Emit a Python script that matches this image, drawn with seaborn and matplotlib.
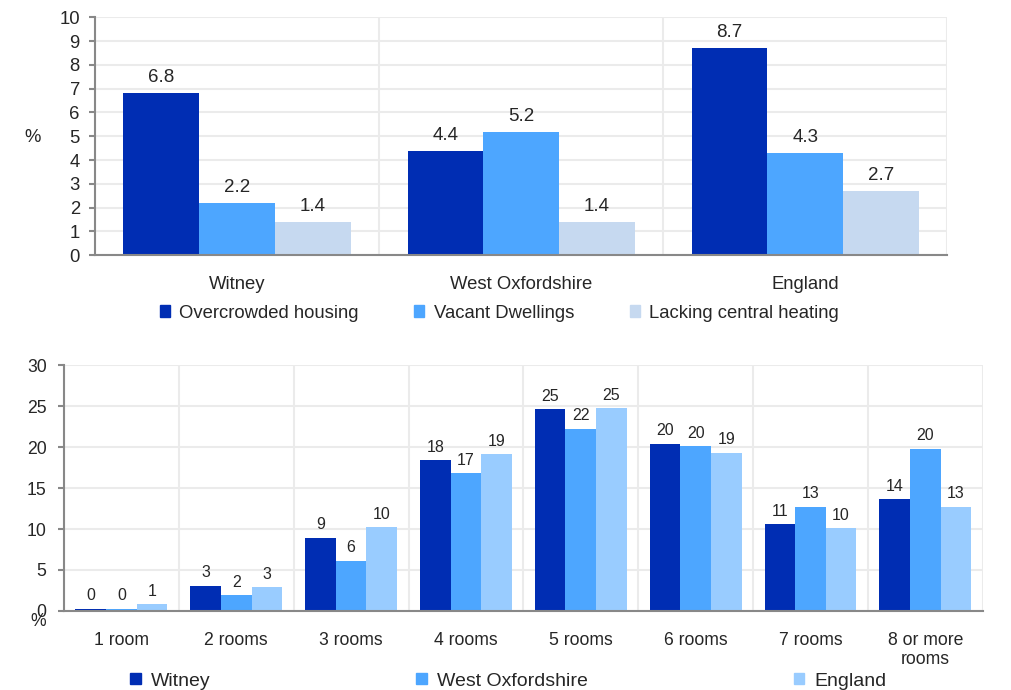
import numpy as np
import pandas as pd
import seaborn as sns
from matplotlib import pyplot as plt
from matplotlib.patches import Patch

# top chart: housing indicators (%)
areas = ["Witney", "West Oxfordshire", "England"]
measures = ["Overcrowded housing", "Vacant Dwellings", "Lacking central heating"]
overcrowded = [6.8, 4.4, 8.7]
vacant = [2.2, 5.2, 4.3]
no_heating = [1.4, 1.4, 2.7]
top_colors = ["#002DB3", "#4DA6FF", "#C6D9F0"]

# bottom chart: number of rooms (%)
rooms = ["1 room", "2 rooms", "3 rooms", "4 rooms", "5 rooms", "6 rooms", "7 rooms", "8 or more\nrooms"]
places = ["Witney", "West Oxfordshire", "England"]
witney = [0.3, 3.1, 8.9, 18.4, 24.6, 20.4, 10.6, 13.6]
west_oxon = [0.3, 1.9, 6.1, 16.8, 22.2, 20.1, 12.7, 19.8]
england = [0.8, 2.9, 10.2, 19.1, 24.7, 19.3, 10.1, 12.7]
bottom_colors = ["#002DB3", "#4DA6FF", "#99CCFF"]

top_df = pd.DataFrame({
    "area": areas * 3,
    "measure": np.repeat(measures, len(areas)),
    "value": overcrowded + vacant + no_heating,
})
bottom_df = pd.DataFrame({
    "rooms": rooms * 3,
    "place": np.repeat(places, len(rooms)),
    "value": witney + west_oxon + england,
})

sns.set_style("white")
plt.rcParams["font.family"] = ["Liberation Sans", "DejaVu Sans"]

GRAY = "#888888"
GRID = "#EBEBEB"


def style_axis(ax, labels, ymax, step, fs, ypad):
    n = len(labels)
    ax.set_ylim(0, ymax)
    ax.set_yticks(np.arange(0, ymax + 0.1, step))
    ax.set_xlim(-0.5, n - 0.5)
    ax.set_xticks(np.arange(n + 1) - 0.5, [""] * (n + 1))
    ax.set_xticks(np.arange(n), labels, minor=True)
    ax.tick_params(axis="x", which="minor", length=0, pad=15, labelsize=fs)
    ax.tick_params(axis="x", which="major", length=4.5, width=1.5, color=GRAY)
    ax.tick_params(axis="y", length=4.5, width=1.5, color=GRAY, pad=ypad, labelsize=fs, left=True)
    ax.grid(True, which="major", color=GRID, linewidth=1.5)
    ax.set_axisbelow(True)
    for s in ["top", "right"]:
        ax.spines[s].set_visible(False)
    for s in ["left", "bottom"]:
        ax.spines[s].set_color(GRAY)
        ax.spines[s].set_linewidth(1.5)
    ax.set_xlabel("")
    ax.set_ylabel("")


fig = plt.figure(figsize=(10.11, 6.90), dpi=100)

# --- top chart
ax1 = fig.add_axes([0.094, 0.630, 0.843, 0.345])
sns.barplot(data=top_df, x="area", y="value", hue="measure", palette=top_colors,
            width=0.8, saturation=1, errorbar=None, legend=False, linewidth=0, ax=ax1)
for c in ax1.containers:
    ax1.bar_label(c, fmt="%.1f", padding=5, fontsize=13.5)
style_axis(ax1, areas, 10, 1, 13.3, 6.5)
fig.text(0.032, 1 - 137 / 690, "%", fontsize=13.3, ha="center", va="center")

handles = [Patch(color=c, label=m) for c, m in zip(top_colors, measures)]
fig.legend(handles=handles, loc="center left", bbox_to_anchor=(160 / 1011, 1 - 313 / 690),
           ncol=3, frameon=False, fontsize=13.3, handlelength=0.55, handleheight=0.55,
           handletextpad=0.5, columnspacing=3.0, borderpad=0, borderaxespad=0)

# --- bottom chart
ax2 = fig.add_axes([0.0633, 0.1145, 0.9087, 0.3565])
sns.barplot(data=bottom_df, x="rooms", y="value", hue="place", palette=bottom_colors,
            width=0.8, saturation=1, errorbar=None, legend=False, linewidth=0, ax=ax2)
for c in ax2.containers:
    ax2.bar_label(c, fmt="%.0f", padding=4, fontsize=11.5)
style_axis(ax2, rooms, 30, 5, 12.7, 8)
fig.text(0.038, 1 - 622 / 690, "%", fontsize=12.7, ha="center", va="center")

handles = [Patch(color=c, label=p) for c, p in zip(bottom_colors, places)]
fig.legend(handles=handles, loc="center left", bbox_to_anchor=(130 / 1011, 1 - 681 / 690),
           ncol=3, frameon=False, fontsize=14, handlelength=0.55, handleheight=0.55,
           handletextpad=0.5, columnspacing=10.6, borderpad=0, borderaxespad=0)

fig.savefig("out.png", dpi=100)
